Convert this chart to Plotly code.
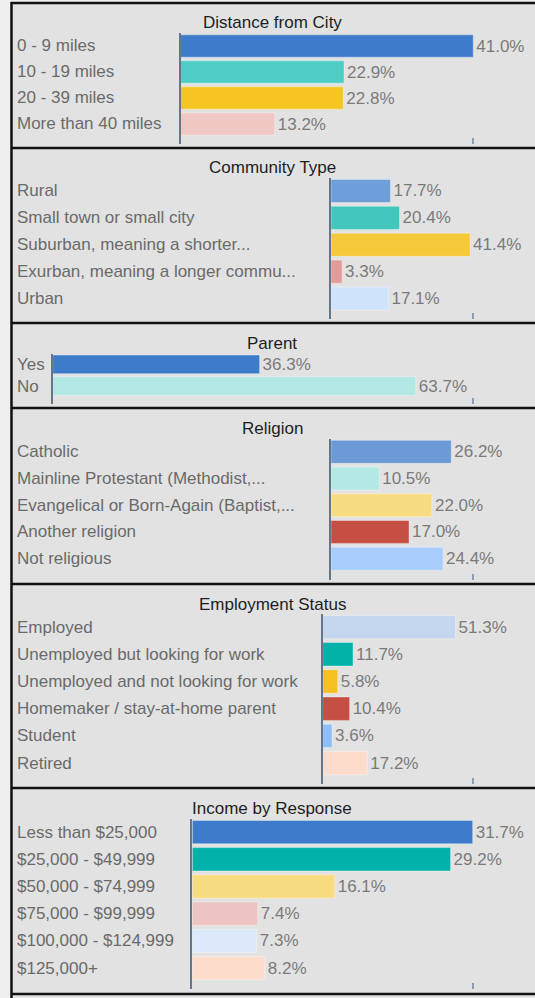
import plotly.graph_objects as go

# ---- data ----
dist_cats = ["0 - 9 miles", "10 - 19 miles", "20 - 39 miles", "More than 40 miles"]
dist_vals = [41.0, 22.9, 22.8, 13.2]

comm_cats = ["Rural", "Small town or small city", "Suburban, meaning a shorter...",
             "Exurban, meaning a longer commu...", "Urban"]
comm_vals = [17.7, 20.4, 41.4, 3.3, 17.1]

parent_cats = ["Yes", "No"]
parent_vals = [36.3, 63.7]

rel_cats = ["Catholic", "Mainline Protestant (Methodist,...", "Evangelical or Born-Again (Baptist,...",
            "Another religion", "Not religious"]
rel_vals = [26.2, 10.5, 22.0, 17.0, 24.4]

emp_cats = ["Employed", "Unemployed but looking for work", "Unemployed and not looking for work",
            "Homemaker / stay-at-home parent", "Student", "Retired"]
emp_vals = [51.3, 11.7, 5.8, 10.4, 3.6, 17.2]

inc_cats = ["Less than $25,000", "$25,000 - $49,999", "$50,000 - $74,999",
            "$75,000 - $99,999", "$100,000 - $124,999", "$125,000+"]
inc_vals = [31.7, 29.2, 16.1, 7.4, 7.3, 8.2]

titles = ["Distance from City", "Community Type", "Parent", "Religion",
          "Employment Status", "Income by Response"]

# ---- colours ----
dist_colors = ["#3d7ccb", "#4ecdc4", "#f5c522", "#efc8c4"]
comm_colors = ["#6f9fd9", "#43c7bd", "#f5c93a", "#e29d98", "#cfe3fb"]
parent_colors = ["#3d7ccb", "#b3e8e4"]
rel_colors = ["#6b9ad7", "#b3e8e4", "#f8dc82", "#c64f43", "#a8ccfb"]
emp_colors = ["#c5d7ee", "#00b2a8", "#f5c122", "#c64f43", "#8fbff8", "#fddccb"]
inc_colors = ["#3d7ccb", "#00b2a9", "#f8dc82", "#ecc5c3", "#dbe9fa", "#fddccb"]

panels = [
    (dist_cats, dist_vals, dist_colors),
    (comm_cats, comm_vals, comm_colors),
    (parent_cats, parent_vals, parent_colors),
    (rel_cats, rel_vals, rel_colors),
    (emp_cats, emp_vals, emp_colors),
    (inc_cats, inc_vals, inc_colors),
]

# ---- layout geometry (pixels) ----
W, H = 535, 998
# axis x, px per %, axis top, axis bottom, band step, title y
geom = [
    (180.5, 7.14, 33, 144, 26.0, 23),
    (331.0, 3.36, 177.5, 319, 26.9, 168),
    (52.7, 5.70, 353.5, 404, 21.7, 343),
    (331.0, 4.59, 438.5, 580, 26.7, 428),
    (322.7, 2.59, 613.5, 784, 27.2, 604),
    (192.3, 8.845, 818.5, 989, 27.2, 808),
]
dividers = [3, 148, 323, 408, 584, 788, 994]
TICK_X = 473
END_X = 480

FONT = "Liberation Sans, Arial, sans-serif"
FS = 17


def px(x):
    return x / W


def py(y):
    return 1 - y / H


fig = go.Figure()
annotations = []
layout_axes = {}

for i, ((cats, vals, cols), (x0, scale, top, bottom, step, ty)) in enumerate(zip(panels, geom)):
    k = "" if i == 0 else str(i + 1)
    fig.add_trace(go.Bar(
        x=vals, y=cats, orientation="h",
        marker=dict(color=cols, line=dict(color="rgba(255,255,255,0.35)", width=1)),
        width=0.86,
        text=[f"{v:.1f}%" for v in vals], textposition="outside",
        textfont=dict(family=FONT, size=FS, color="#7a7a7a"),
        constraintext="none", cliponaxis=False,
        xaxis="x" + k, yaxis="y" + k, showlegend=False, hoverinfo="skip",
    ))
    n_bottom = -0.5 + (bottom - top) / step
    layout_axes["xaxis" + k] = dict(
        domain=[px(x0), px(END_X)], range=[0, (END_X - x0) / scale],
        anchor="y" + k, showgrid=False, zeroline=False, showline=False,
        tickvals=[(TICK_X - x0) / scale], ticks="inside", ticklen=6, tickwidth=2,
        tickcolor="#8d9cb0", showticklabels=False, fixedrange=True,
    )
    layout_axes["yaxis" + k] = dict(
        domain=[py(bottom), py(top)], type="category",
        range=[n_bottom, -0.5], anchor="x" + k,
        showgrid=False, zeroline=False, showline=True, linecolor="#66768a", linewidth=2,
        ticks="", showticklabels=False, fixedrange=True,
    )
    for j, c in enumerate(cats):
        annotations.append(dict(
            text=c, xref="paper", yref="y" + k, x=px(15), y=j,
            xanchor="left", yanchor="middle", showarrow=False,
            font=dict(family=FONT, size=FS, color="#6a6a6a"),
        ))
    annotations.append(dict(
        text=titles[i], xref="paper", yref="paper", x=px(272), y=py(ty),
        xanchor="center", yanchor="middle", showarrow=False,
        font=dict(family=FONT, size=FS, color="#1e1e1e"),
    ))

shapes = [dict(type="rect", xref="paper", yref="paper", x0=px(11), x1=1, y0=0, y1=py(3),
               fillcolor="#e2e2e2", line=dict(width=0), layer="below")]
for y in dividers:
    shapes.append(dict(type="line", xref="paper", yref="paper", x0=px(11), x1=1,
                       y0=py(y), y1=py(y), line=dict(color="#111111", width=2.5)))
shapes.append(dict(type="line", xref="paper", yref="paper", x0=px(11.5), x1=px(11.5),
                   y0=0, y1=py(2), line=dict(color="#111111", width=2.5)))

fig.update_layout(
    width=W, height=H, margin=dict(l=0, r=0, t=0, b=0),
    paper_bgcolor="#efefef", plot_bgcolor="rgba(0,0,0,0)",
    font=dict(family=FONT), annotations=annotations, shapes=shapes,
    **layout_axes,
)

# drop the browser's default body margin so the figure sits at 0,0
fig.write_html("out.html", config={"displayModeBar": False},
               post_script="document.body.style.margin='0';")
